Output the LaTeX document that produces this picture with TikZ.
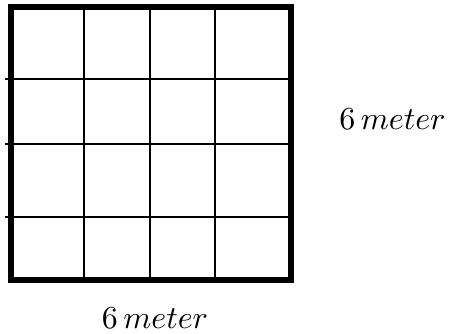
\documentclass[tikz,border=0pt]{standalone}
\usepackage{amsmath}
\tikzset{
  gridline/.style={line width=1.3pt},
  borderline/.style={line width=6pt},
  sizelabel/.style={inner sep=0pt, anchor=base}
}
\newcommand{\sizetext}{\scalebox{3.2}{$6\,meter$}}
\begin{document}
\begin{tikzpicture}[x=1pt,y=-1pt]
    \useasboundingbox (0,0) rectangle (450,333);
    % inner grid lines
    \foreach \gx in {84,150,215}
      \draw[gridline] (\gx,7) -- (\gx,280);
    \foreach \gy in {79,144,217}
      \draw[gridline] (5,\gy) -- (294,\gy);
    % thick outer frame
    \draw[borderline] (11,7) rectangle (290.5,280);
    % size labels
    \node[sizelabel] (sideLabel) at (392.5,129) {\sizetext};
    \node[sizelabel] (baseLabel) at (155,328) {\sizetext};
\end{tikzpicture}
\end{document}
